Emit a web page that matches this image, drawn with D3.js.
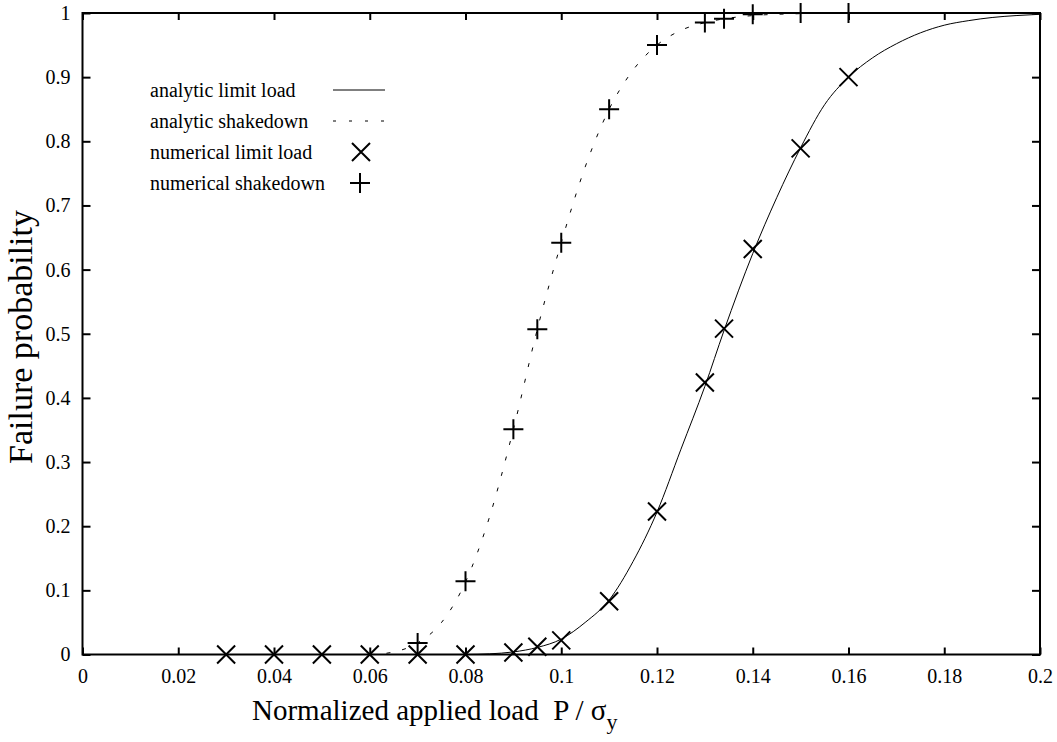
<!DOCTYPE html>
<html>
<head>
<meta charset="utf-8">
<script src="https://cdn.jsdelivr.net/npm/d3@7"></script>
<style>
  body { margin: 0; background: #fff; }
  text { font-family: "Liberation Serif", "Times New Roman", serif; fill: #000; }
</style>
</head>
<body>
<svg width="1057" height="742"></svg>
<script>
// tick values
var xTicks = [0, 0.02, 0.04, 0.06, 0.08, 0.1, 0.12, 0.14, 0.16, 0.18, 0.2];
var yTicks = [0, 0.1, 0.2, 0.3, 0.4, 0.5, 0.6, 0.7, 0.8, 0.9, 1];

// analytic curves
var limitCurveX = [0, 0.08, 0.085, 0.09, 0.095, 0.1, 0.105, 0.11, 0.115, 0.12, 0.125, 0.13, 0.134, 0.14, 0.145, 0.15, 0.155, 0.16, 0.165, 0.17, 0.175, 0.18, 0.185, 0.19, 0.195, 0.2];
var limitCurveY = [0, 0, 0.001, 0.004, 0.011, 0.024, 0.05, 0.085, 0.145, 0.222, 0.32, 0.418, 0.505, 0.625, 0.712, 0.79, 0.857, 0.9, 0.93, 0.952, 0.969, 0.981, 0.988, 0.993, 0.996, 0.998];

var shakeCurveX = [0, 0.06, 0.065, 0.07, 0.075, 0.08, 0.085, 0.09, 0.095, 0.1, 0.105, 0.11, 0.115, 0.12, 0.125, 0.13, 0.135, 0.14, 0.15, 0.16, 0.2];
var shakeCurveY = [0, 0, 0.004, 0.018, 0.05, 0.113, 0.214, 0.351, 0.507, 0.642, 0.76, 0.85, 0.911, 0.95, 0.973, 0.985, 0.992, 0.996, 0.999, 1, 1];

// numerical points
var limitPtsX = [0.03, 0.04, 0.05, 0.06, 0.07, 0.08, 0.09, 0.095, 0.1, 0.11, 0.12, 0.13, 0.134, 0.14, 0.15, 0.16];
var limitPtsY = [0, 0, 0, 0, 0, 0, 0.003, 0.012, 0.022, 0.083, 0.223, 0.424, 0.508, 0.632, 0.789, 0.9];

var shakePtsX = [0.07, 0.08, 0.09, 0.095, 0.1, 0.11, 0.12, 0.13, 0.134, 0.14, 0.15, 0.16];
var shakePtsY = [0.018, 0.114, 0.351, 0.507, 0.642, 0.85, 0.95, 0.985, 0.991, 0.998, 1, 1];

var legendLabels = ["analytic limit load", "analytic shakedown", "numerical limit load", "numerical shakedown"];

var svg = d3.select("svg");

var plotLeft = 82.5, plotRight = 1040, plotTop = 13, plotBottom = 654.5;

var x = d3.scaleLinear().domain([0, 0.2]).range([plotLeft, plotRight]);
var y = d3.scaleLinear().domain([0, 1]).range([plotBottom, plotTop]);

var zip = function(xs, ys) { return xs.map(function(v, i) { return [v, ys[i]]; }); };

var fmt = function(d) { return d === 0 ? "0" : String(+d.toFixed(2)); };

// axes, ticks inside, mirrored on top/right
svg.append("g")
    .attr("transform", "translate(0," + plotBottom + ")")
    .call(d3.axisBottom(x).tickValues(xTicks).tickSizeInner(-7).tickSizeOuter(0).tickPadding(14).tickFormat(fmt))
    .call(function(g) { g.select(".domain").remove(); })
    .selectAll("text").attr("font-size", 20).style("font-family", "Liberation Serif, serif");

svg.append("g")
    .attr("transform", "translate(" + plotLeft + ",0)")
    .call(d3.axisLeft(y).tickValues(yTicks).tickSizeInner(-8).tickSizeOuter(0).tickPadding(12).tickFormat(fmt))
    .call(function(g) { g.select(".domain").remove(); })
    .selectAll("text").attr("font-size", 20).style("font-family", "Liberation Serif, serif");

svg.append("g")
    .attr("transform", "translate(0," + plotTop + ")")
    .call(d3.axisTop(x).tickValues(xTicks).tickSizeInner(-7).tickSizeOuter(0).tickFormat(""))
    .call(function(g) { g.select(".domain").remove(); });

svg.append("g")
    .attr("transform", "translate(" + plotRight + ",0)")
    .call(d3.axisRight(y).tickValues(yTicks).tickSizeInner(-8).tickSizeOuter(0).tickFormat(""))
    .call(function(g) { g.select(".domain").remove(); });

svg.selectAll(".tick line").attr("stroke", "#000").attr("stroke-width", 2);

svg.append("rect")
    .attr("x", plotLeft).attr("y", plotTop)
    .attr("width", plotRight - plotLeft).attr("height", plotBottom - plotTop)
    .attr("fill", "none").attr("stroke", "#000").attr("stroke-width", 2);

// curves
var line = d3.line()
    .x(function(d) { return x(d[0]); })
    .y(function(d) { return y(d[1]); })
    .curve(d3.curveMonotoneX);

svg.append("path")
    .datum(zip(limitCurveX, limitCurveY))
    .attr("d", line)
    .attr("fill", "none").attr("stroke", "#000").attr("stroke-width", 1);

svg.append("path")
    .datum(zip(shakeCurveX, shakeCurveY))
    .attr("d", line)
    .attr("fill", "none").attr("stroke", "#000").attr("stroke-width", 1)
    .attr("stroke-dasharray", "4,12");

// markers
var crossPath = function(cx, cy) {
    var s = 9;
    return "M" + (cx - s) + "," + (cy - s) + "L" + (cx + s) + "," + (cy + s) +
        "M" + (cx - s) + "," + (cy + s) + "L" + (cx + s) + "," + (cy - s);
};
var plusPath = function(cx, cy) {
    var s = 10;
    return "M" + (cx - s) + "," + cy + "L" + (cx + s) + "," + cy +
        "M" + cx + "," + (cy - s) + "L" + cx + "," + (cy + s);
};

svg.append("g").selectAll("path")
    .data(zip(limitPtsX, limitPtsY))
    .join("path")
    .attr("d", function(d) { return crossPath(x(d[0]), y(d[1])); })
    .attr("stroke", "#000").attr("stroke-width", 2).attr("fill", "none");

svg.append("g").selectAll("path")
    .data(zip(shakePtsX, shakePtsY))
    .join("path")
    .attr("d", function(d) { return plusPath(x(d[0]), y(d[1])); })
    .attr("stroke", "#000").attr("stroke-width", 2).attr("fill", "none");

// legend
var leg = svg.append("g");
legendLabels.forEach(function(lbl, i) {
    var ly = 90 + i * 31;
    leg.append("text")
        .attr("x", 150).attr("y", ly).attr("dy", "0.35em")
        .attr("font-size", 20)
        .text(lbl);
    if (i === 0) {
        leg.append("line").attr("x1", 333).attr("x2", 385).attr("y1", ly).attr("y2", ly)
            .attr("stroke", "#000").attr("stroke-width", 1);
    } else if (i === 1) {
        leg.append("line").attr("x1", 333).attr("x2", 385).attr("y1", ly).attr("y2", ly)
            .attr("stroke", "#000").attr("stroke-width", 1).attr("stroke-dasharray", "3,13");
    } else if (i === 2) {
        leg.append("path").attr("d", crossPath(361, ly))
            .attr("stroke", "#000").attr("stroke-width", 2);
    } else {
        leg.append("path").attr("d", plusPath(360, ly))
            .attr("stroke", "#000").attr("stroke-width", 2);
    }
});

// axis titles
var xt = svg.append("text")
    .attr("x", 252).attr("y", 720)
    .attr("font-size", 29);
xt.append("tspan").text("Normalized applied load\u00a0\u00a0P / \u03c3");
xt.append("tspan").attr("font-size", 22).attr("dy", 9).text("y");

svg.append("text")
    .attr("transform", "translate(32,337) rotate(-90)")
    .attr("text-anchor", "middle")
    .attr("font-size", 34)
    .text("Failure probability");
</script>
</body>
</html>
